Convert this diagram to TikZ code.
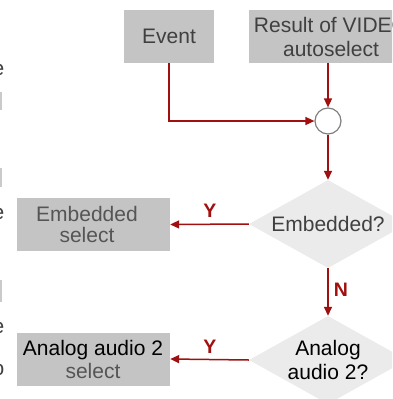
\documentclass[tikz,border=0pt]{standalone}
\usepackage{fontspec}
\setmainfont{Liberation Sans}
\usetikzlibrary{arrows.meta,shapes.geometric}
\definecolor{boxgray}{HTML}{C4C4C4}
\definecolor{diagray}{HTML}{EBEBEB}
\definecolor{txtgray}{HTML}{404040}
\definecolor{seltxt}{HTML}{555555}
\definecolor{arrred}{HTML}{A01010}
\definecolor{ringgray}{HTML}{808080}
\tikzset{
  boxnode/.style={rectangle, fill=boxgray, inner sep=0pt, minimum height=53pt},
  dianode/.style={diamond, fill=diagray, inner sep=0pt, aspect=1.795, minimum width=158pt, minimum height=88pt, align=center},
  txt/.style={inner sep=0pt, align=center},
  flow/.style={draw=arrred, line width=1.5pt, -{Triangle[length=9pt,width=8pt]}},
  lbl/.style={text=arrred, font=\bfseries\fontsize{19.5}{21}\selectfont, inner sep=0pt},
  frag/.style={inner sep=0pt, anchor=base east, text=txtgray}
}
\begin{document}
\begin{tikzpicture}[x=1pt,y=-1pt]
\useasboundingbox (0,0) rectangle (392,399);
\clip (0,0) rectangle (392,399);
\fontsize{21}{24}\selectfont
% left-edge fragments
\fill[boxgray!90] (0,92) rectangle (2,110);
\fill[boxgray!90] (0,168) rectangle (2,187);
\fill[boxgray!90] (0,280) rectangle (2,302);
\node[frag] (f1) at (4.5,75) {e};
\node[frag] (f2) at (4.5,219) {e};
\node[frag] (f3) at (4.5,333) {e};
\node[frag] (f4) at (4.5,375) {o};
% boxes
\node[boxnode, minimum width=90pt, text=txtgray] (event) at (169,36.5) {Event};
\node[boxnode, minimum width=164pt, text=txtgray, align=center] (result) at (331,36.5) {Result of VIDEO\\autoselect};
\node[circle, draw=ringgray, line width=1.2pt, fill=white, minimum size=26pt, inner sep=0pt] (junc) at (328,121) {};
\node[dianode, text=txtgray] (emb) at (328,224) {Embedded?};
\node[dianode, text=black] (ana) at (328,360) {\fontsize{21}{22}\selectfont Analog\\audio 2?};
\node[boxnode, minimum width=153pt] (embsel) at (93.5,224.5) {};
\node[txt, text=seltxt, font=\fontsize{21}{21.5}\selectfont] (embseltxt) at (87,224.5) {Embedded\\select};
\node[boxnode, minimum width=153pt] (anasel) at (93.5,359) {};
\node[txt, font=\fontsize{21}{23}\selectfont] (anaseltxt) at (93,359) {Analog audio 2\\\textcolor{seltxt}{select}};
% connectors
\draw[flow] (result.south -| junc.north) -- (junc.north);
\draw[flow] (event.south) |- (junc.west);
\draw[flow] (junc.south) -- (emb.north);
\draw[flow] (emb.west) -- (embsel.east);
\draw[flow] (emb.south) -- (ana.north);
\draw[flow] (ana.west) -- (anasel.east);
% labels
\node[lbl] (y1) at (210,211) {Y};
\node[lbl] (n1) at (341,290) {N};
\node[lbl] (y2) at (210,347) {Y};
\end{tikzpicture}
\end{document}
